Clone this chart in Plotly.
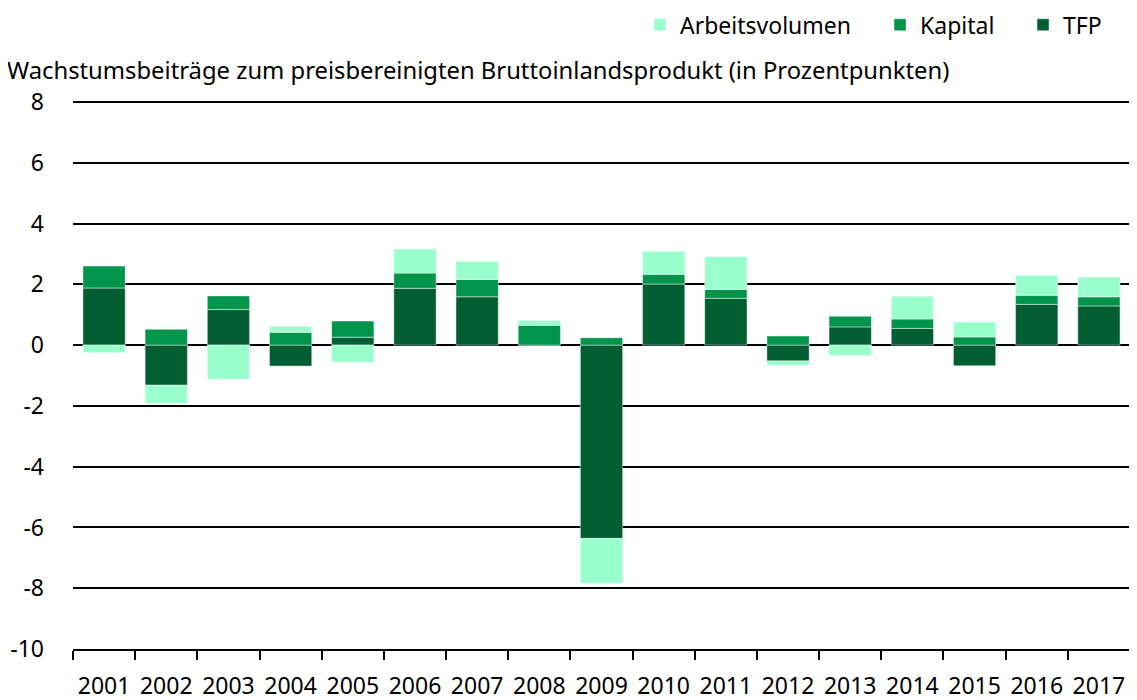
import plotly.graph_objects as go

years = [str(y) for y in range(2001, 2018)]
tfp = [1.88, -1.32, 1.17, -0.69, 0.26, 1.87, 1.59, 0.0, -6.36, 2.01, 1.54, -0.52, 0.60, 0.55, -0.68, 1.34, 1.29]
kapital = [0.72, 0.52, 0.45, 0.42, 0.53, 0.50, 0.57, 0.65, 0.24, 0.32, 0.29, 0.30, 0.35, 0.31, 0.27, 0.30, 0.30]
arbeit = [-0.25, -0.60, -1.12, 0.20, -0.56, 0.79, 0.60, 0.17, -1.48, 0.76, 1.08, -0.14, -0.34, 0.75, 0.49, 0.66, 0.65]
yticks = [-10, -8, -6, -4, -2, 0, 2, 4, 6, 8]
ytick_labels = ["-10", "-8", "-6", "-4", "-2", "0", "2", "4", "6", "8"]

FONT = "Source Sans Pro, Noto Sans, sans-serif"
line = dict(color="rgba(255,255,255,0.45)", width=1)

fig = go.Figure()
fig.add_trace(go.Bar(x=years, y=tfp, name="TFP", legend="legend3",
                     marker=dict(color="#005e31", line=line)))
fig.add_trace(go.Bar(x=years, y=kapital, name="Kapital", legend="legend2",
                     marker=dict(color="#00954a", line=line)))
fig.add_trace(go.Bar(x=years, y=arbeit, name="Arbeitsvolumen", legend="legend",
                     marker=dict(color="#99ffcc", line=line)))

leg_common = dict(orientation="h", xanchor="left", y=1.137, yanchor="middle",
                  font=dict(size=23), itemwidth=30, bgcolor="rgba(0,0,0,0)")

fig.update_layout(
    width=1129, height=700,
    barmode="relative", bargap=0.32,
    plot_bgcolor="white", paper_bgcolor="white",
    font=dict(family=FONT, size=23, color="black"),
    margin=dict(l=65, r=7, t=92, b=59, autoexpand=False),
    legend=dict(x=0.5364, **leg_common),
    legend2=dict(x=0.7635, **leg_common),
    legend3=dict(x=0.8988, **leg_common),
    annotations=[dict(text="Wachstumsbeiträge zum preisbereinigten Bruttoinlandsprodukt (in Prozentpunkten)",
                      xref="paper", yref="paper", x=-68/1057, y=1.0546, xanchor="left", yanchor="middle",
                      showarrow=False, font=dict(size=23.8))],
    showlegend=True,
)
fig.update_xaxes(type="category", tickson="boundaries", ticks="outside", ticklen=9, tickwidth=1.5,
                 tickcolor="black", showline=True, linecolor="black", linewidth=2,
                 showgrid=False, tickfont=dict(size=23), ticklabelstandoff=15)
fig.update_yaxes(range=[-10, 8.066], tickvals=yticks, ticktext=ytick_labels, showgrid=True,
                 gridcolor="black", gridwidth=1.5, zeroline=True, zerolinecolor="black", zerolinewidth=1.5,
                 ticks="", ticklabelstandoff=28, tickfont=dict(size=23))
fig.write_html("out.html")
